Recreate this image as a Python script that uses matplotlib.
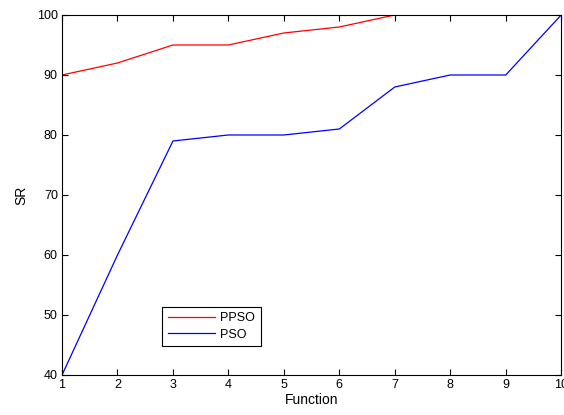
import matplotlib
matplotlib.use("Agg")
import matplotlib.pyplot as plt

functions = [1, 2, 3, 4, 5, 6, 7, 8, 9, 10]
ppso_sr = [90, 92, 95, 95, 97, 98, 100, 100, 100, 100]
pso_sr = [40, 60, 79, 80, 80, 81, 88, 90, 90, 100]

plt.rcParams['font.family'] = ['Liberation Sans', 'DejaVu Sans']

fig = plt.figure(figsize=(5.64, 4.15), dpi=100)
ax = fig.add_axes([0.110, 0.0964, 0.885, 0.8675])

ax.plot(functions, ppso_sr, color='#ff0000', lw=0.9, label='PPSO')
ax.plot(functions, pso_sr, color='#0000ff', lw=0.9, label='PSO')

ax.set_xlim(1, 10)
ax.set_ylim(40, 100)
ax.set_xticks(functions)
ax.set_yticks(range(40, 101, 10))
ax.tick_params(direction='in', top=True, right=True, labelsize=9, length=4, width=0.8, pad=3)
for s in ax.spines.values():
    s.set_linewidth(0.8)

ax.set_xlabel('Function', fontsize=10, labelpad=1)
ax.set_ylabel('SR', fontsize=10, labelpad=6)

leg = ax.legend(loc='lower left', bbox_to_anchor=(0.188, 0.062), fontsize=9,
                fancybox=False, edgecolor='black', framealpha=1,
                handlelength=3.8, borderpad=0.45, labelspacing=0.35, handletextpad=0.4)
leg.get_frame().set_linewidth(0.8)

fig.savefig('out.png', dpi=100)
